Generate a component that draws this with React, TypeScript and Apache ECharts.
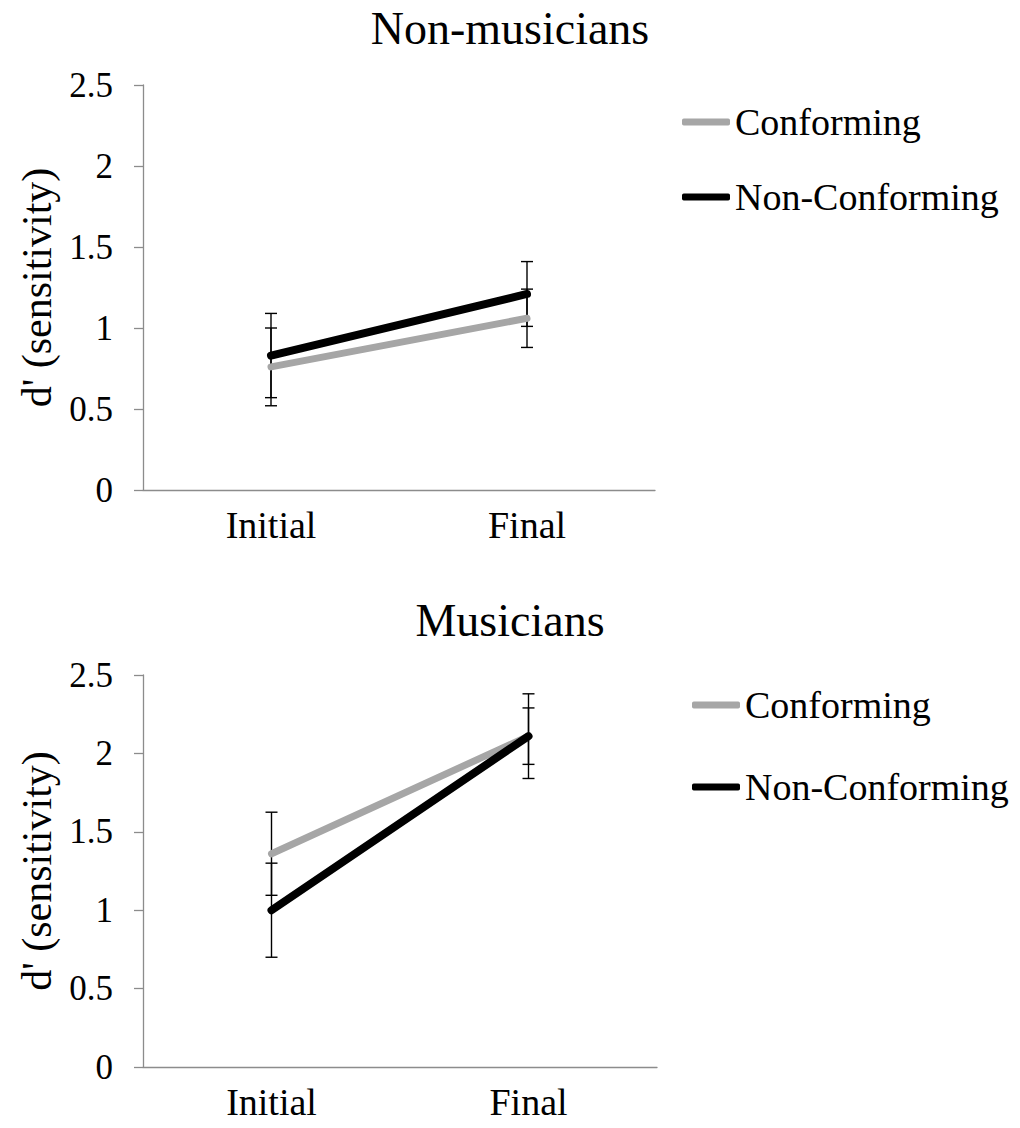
import React, { useEffect, useRef } from "react";
import * as echarts from "echarts";

// Phases of the session along the x axis
const categories = ["Initial", "Final"];

// Mean d' and error (half-length of the bar) per phase — non-musicians
const nonMusConforming = [0.76, 1.06];
const nonMusConformingErr = [0.24, 0.18];
const nonMusNonConforming = [0.83, 1.21];
const nonMusNonConformingErr = [0.26, 0.2];

// Mean d' and error per phase — musicians
const musConforming = [1.36, 2.11];
const musConformingErr = [0.265, 0.18];
const musNonConforming = [1.0, 2.11];
const musNonConformingErr = [0.3, 0.27];

const yTicks = { min: 0, max: 2.5, interval: 0.5 };

const FONT = "'Liberation Serif', 'Times New Roman', serif";
const GRAY = "#a6a6a6";
const AXIS = "#8c8c8c";

function errorBarSeries(values: number[], errs: number[], gridIdx: number) {
  return {
    type: "custom",
    xAxisIndex: gridIdx,
    yAxisIndex: gridIdx,
    z: 1,
    silent: true,
    data: values.map((v, i) => [i, v, errs[i]]),
    renderItem: (_params: any, api: any) => {
      const x = api.value(0);
      const m = api.value(1);
      const e = api.value(2);
      const hi = api.coord([x, m + e]);
      const lo = api.coord([x, m - e]);
      const cap = 6;
      const style = { stroke: "#000", lineWidth: 1.4 };
      return {
        type: "group",
        children: [
          { type: "line", shape: { x1: hi[0], y1: hi[1], x2: lo[0], y2: lo[1] }, style },
          { type: "line", shape: { x1: hi[0] - cap, y1: hi[1], x2: hi[0] + cap, y2: hi[1] }, style },
          { type: "line", shape: { x1: lo[0] - cap, y1: lo[1], x2: lo[0] + cap, y2: lo[1] }, style },
        ],
      };
    },
  };
}

function lineSeries(name: string, values: number[], color: string, width: number, gridIdx: number) {
  return {
    type: "line",
    name,
    xAxisIndex: gridIdx,
    yAxisIndex: gridIdx,
    z: 3,
    symbol: "none",
    data: values,
    lineStyle: { color, width, cap: "round" },
    itemStyle: { color },
  };
}

function xAxis(gridIdx: number) {
  return {
    type: "category",
    gridIndex: gridIdx,
    data: categories,
    boundaryGap: true,
    axisLine: { lineStyle: { color: AXIS, width: 1.3 } },
    axisTick: { length: 9, lineStyle: { color: AXIS, width: 1.3 } },
    axisLabel: { color: "#000", fontFamily: FONT, fontSize: 38, margin: 16 },
  };
}

function yAxis(gridIdx: number) {
  return {
    type: "value",
    gridIndex: gridIdx,
    ...yTicks,
    name: "d' (sensitivity)",
    nameLocation: "middle",
    nameRotate: 90,
    nameGap: 80,
    nameTextStyle: { color: "#000", fontFamily: FONT, fontSize: 42 },
    splitLine: { show: false },
    axisLine: { show: true, lineStyle: { color: AXIS, width: 1.3 } },
    axisTick: { show: true, length: 9, lineStyle: { color: AXIS, width: 1.3 } },
    axisLabel: { color: "#000", fontFamily: FONT, fontSize: 35, margin: 30 },
  };
}

function legendItem(name: string, left: number, top: number) {
  return {
    data: [{ name, icon: "roundRect" }],
    left,
    top,
    padding: 0,
    itemWidth: 48,
    itemHeight: 7,
    selectedMode: false,
    textStyle: { color: "#000", fontFamily: FONT, fontSize: 38, lineHeight: 40 },
  };
}

export default function App() {
  const ref = useRef<HTMLDivElement>(null);

  useEffect(() => {
    if (!ref.current) return;
    const chart = echarts.init(ref.current, undefined, { renderer: "svg" });
    const titleStyle = { color: "#000", fontFamily: FONT, fontSize: 46, fontWeight: "normal" };
    chart.setOption({
      animation: false,
      backgroundColor: "#fff",
      title: [
        { text: "Non-musicians", left: "center", top: 0, textStyle: titleStyle },
        { text: "Musicians", left: "center", top: 592, textStyle: titleStyle },
      ],
      legend: [
        legendItem("Conforming", 682, 102),
        legendItem("Non-Conforming", 682, 177),
        legendItem("Conforming", 692, 685),
        legendItem("Non-Conforming", 692, 767),
      ],
      grid: [
        { left: 143, top: 85, width: 512, height: 405 },
        { left: 143, top: 675, width: 514, height: 392 },
      ],
      xAxis: [xAxis(0), xAxis(1)],
      yAxis: [yAxis(0), yAxis(1)],
      series: [
        errorBarSeries(nonMusConforming, nonMusConformingErr, 0),
        errorBarSeries(nonMusNonConforming, nonMusNonConformingErr, 0),
        lineSeries("Conforming", nonMusConforming, GRAY, 7, 0),
        lineSeries("Non-Conforming", nonMusNonConforming, "#000", 8, 0),
        errorBarSeries(musConforming, musConformingErr, 1),
        errorBarSeries(musNonConforming, musNonConformingErr, 1),
        lineSeries("Conforming", musConforming, GRAY, 7, 1),
        lineSeries("Non-Conforming", musNonConforming, "#000", 8, 1),
      ],
    });
    return () => chart.dispose();
  }, []);

  return (
    <div
      ref={ref}
      style={{ position: "absolute", left: 0, top: 0, width: 1020, height: 1128, background: "#fff" }}
    />
  );
}
